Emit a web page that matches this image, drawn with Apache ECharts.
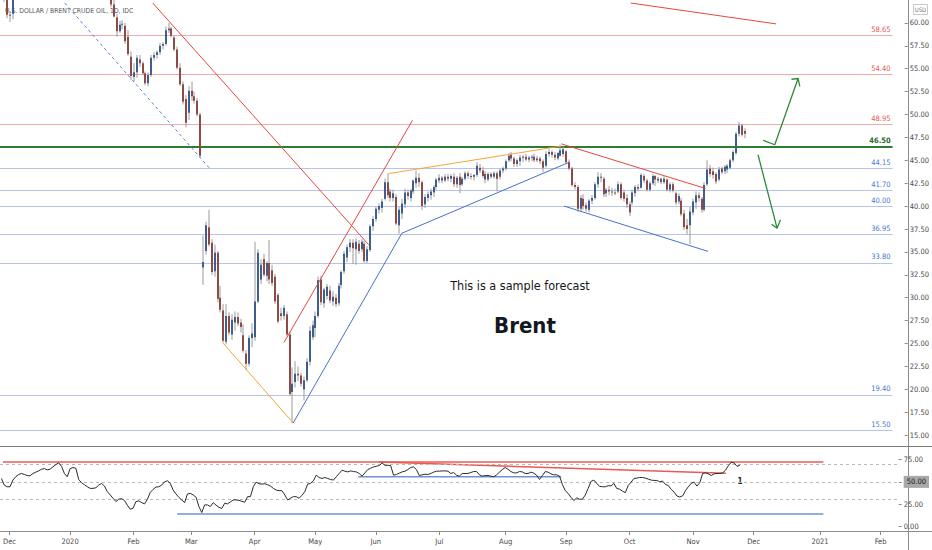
<!DOCTYPE html>
<html>
<head>
<meta charset="utf-8">
<script src="https://cdn.jsdelivr.net/npm/echarts@6/dist/echarts.min.js"></script>
<style>
html,body{margin:0;padding:0;background:#ffffff;}
#chart{width:932px;height:550px;}
</style>
</head>
<body>
<div id="chart"></div>
<script>
// ---------------- DATA ----------------
const startDate = '2019-11-28';
const barCount = 314;
const holidays = ['2019-12-25', '2020-01-01', '2020-04-10'];
const monthNames = ['Jan','Feb','Mar','Apr','May','Jun','Jul','Aug','Sep','Oct','Nov','Dec'];

const opens = [
63.9,63.6,62.5,60.9,61.0,62.9,63.4,64.4,64.3,64.4,
63.7,64.2,65.2,65.3,66.1,66.2,66.5,66.1,66.4,67.2,
67.9,68.2,68.4,66.0,66.3,68.6,68.9,68.3,65.4,65.3,
65.0,64.2,64.5,64.0,64.6,64.9,65.2,64.6,63.2,62.0,
60.6,59.1,59.8,59.7,58.5,56.3,54.1,54.6,56.0,55.6,
54.5,53.4,54.3,56.2,56.5,56.8,57.5,57.7,59.2,59.4,
58.4,57.1,55.1,53.3,51.7,50.2,52.6,52.0,51.5,50.0,
33.3,35.1,37.7,36.0,32.9,34.9,30.0,28.6,25.2,28.0,
26.0,27.3,27.9,27.3,25.9,23.9,22.8,25.6,25.7,29.6,
32.0,34.2,32.4,33.8,33.0,32.3,30.3,28.3,28.0,28.2,
26.0,19.7,20.8,21.7,21.5,20.0,21.0,23.0,25.7,26.7,
28.0,32.0,29.4,30.2,30.8,29.6,30.0,29.4,31.4,32.9,
34.4,35.5,36.0,35.3,35.9,35.3,35.9,34.0,35.2,37.8,
38.6,39.6,39.8,40.8,42.6,41.6,40.9,41.0,37.9,39.2,
40.2,41.5,40.9,41.6,42.5,43.1,42.6,40.2,40.9,41.2,
41.5,42.1,42.8,43.1,42.8,43.2,43.0,43.2,42.4,43.2,
42.4,43.0,43.6,43.3,43.2,43.4,44.2,43.9,43.5,42.9,
43.5,43.2,43.6,43.2,43.9,44.1,45.0,45.6,45.2,44.6,
44.9,45.3,45.4,45.1,45.3,45.4,45.0,45.2,44.9,44.4,
45.7,45.9,45.6,45.2,45.5,45.7,46.0,44.8,44.1,42.3,
42.1,39.7,40.8,40.1,39.6,40.6,40.9,42.4,43.2,43.0,
41.4,41.8,41.6,41.5,41.6,42.4,41.5,40.9,40.2,40.4,
41.4,42.1,42.0,43.3,42.8,41.8,42.5,43.3,42.8,43.0,
42.6,42.9,41.8,42.4,41.4,40.5,40.6,39.2,37.9,37.9,
39.3,40.4,41.2,40.8,39.6,42.4,44.1,43.8,43.5,42.9,
44.1,43.8,44.0,44.2,45.0,45.8,47.9,48.8,48.2
];
const highs = [
64.3,63.8,62.6,61.3,63.0,63.9,64.6,64.7,64.8,64.5,
64.5,65.5,65.7,66.2,66.5,66.6,66.6,66.5,67.3,68.0,
68.4,69.0,68.6,66.8,69.5,70.7,69.2,71.8,66.0,65.9,
65.1,64.8,64.6,64.8,65.2,65.6,65.7,64.9,63.5,62.7,
61.0,60.2,60.3,60.0,59.2,56.9,55.6,56.5,56.5,55.8,
54.7,54.6,56.5,56.8,57.0,57.8,57.9,59.6,60.0,59.6,
58.6,57.4,55.6,53.6,52.1,53.1,53.6,52.5,51.8,50.2,
36.8,38.3,39.6,36.4,35.8,35.1,31.3,29.3,29.3,28.4,
28.2,28.5,28.4,27.7,27.1,24.3,25.9,27.2,36.1,35.3,
34.2,34.8,34.0,36.3,33.6,32.6,30.5,28.9,29.2,28.5,
26.3,22.4,23.1,22.5,21.8,21.4,23.4,26.9,27.5,28.5,
32.3,32.4,31.1,31.5,31.3,30.7,30.4,31.6,33.0,35.1,
35.8,36.4,36.4,36.5,36.3,36.4,36.2,35.6,38.0,38.9,
39.9,40.3,40.8,43.0,43.55,41.9,41.8,41.3,39.9,40.8,
41.9,41.8,41.9,42.9,43.9,43.6,42.8,41.3,41.6,41.9,
42.3,43.1,43.5,43.3,43.5,43.5,43.5,43.6,43.3,43.6,
43.2,43.8,43.8,43.6,43.5,44.8,44.6,44.3,43.8,43.7,
43.7,43.8,43.8,44.1,44.3,45.1,45.8,45.9,45.4,45.2,
45.6,45.6,45.7,45.5,45.6,45.7,45.5,45.4,45.1,46.0,
46.2,46.1,45.9,45.9,46.7,46.5,46.1,45.1,44.3,42.6,
42.3,41.2,41.3,40.4,40.8,41.2,42.6,43.7,43.6,43.2,
42.0,42.2,42.0,41.9,42.7,42.6,41.8,41.3,40.5,41.8,
42.3,42.4,43.6,43.5,43.0,42.7,43.5,43.4,43.2,43.1,
43.3,43.0,42.6,42.6,41.6,41.4,40.9,39.6,38.6,39.9,
40.8,41.6,41.5,41.0,42.6,45.0,44.5,44.2,43.7,44.3,
44.3,44.5,44.6,45.2,46.1,48.1,49.2,49.0,48.5
];
const lows = [
63.2,62.3,60.5,60.1,60.4,62.6,63.0,63.9,63.9,63.5,
63.5,63.8,64.9,65.2,65.8,65.8,65.8,65.9,66.3,67.0,
67.6,68.1,65.9,65.6,66.1,68.3,68.0,65.2,64.9,64.6,
63.9,63.8,63.8,63.9,64.5,64.8,64.3,63.1,61.7,60.6,
58.5,58.9,59.3,57.7,56.4,53.8,53.6,54.0,55.2,54.3,
53.2,53.1,54.1,55.9,56.1,56.5,57.1,57.5,58.9,58.4,
56.9,54.9,53.1,51.1,48.6,49.4,51.5,51.2,49.8,45.3,
31.4,34.7,35.6,32.5,32.3,29.5,28.4,25.1,24.9,25.9,
25.4,26.4,26.9,26.2,24.0,22.1,22.5,24.6,25.3,29.4,
31.5,32.3,31.8,31.5,31.3,29.3,27.2,27.5,27.6,25.8,
19.3,16.3,20.2,20.9,20.3,18.8,20.8,22.6,25.4,25.7,
27.8,29.2,28.9,29.8,29.4,29.1,29.0,29.1,31.0,32.6,
33.9,35.0,33.7,33.6,34.8,35.0,33.8,33.8,35.0,37.3,
38.3,39.2,39.3,40.6,40.9,40.5,40.5,37.9,37.0,38.6,
39.8,40.7,40.5,41.3,42.0,42.1,39.6,39.8,40.5,40.7,
41.0,41.8,42.5,42.5,42.6,42.7,42.6,42.1,42.0,41.4,
42.2,42.8,43.0,42.9,42.8,43.2,43.6,43.1,42.5,42.7,
43.0,43.0,41.6,42.9,43.6,43.9,44.8,44.9,44.3,44.3,
44.4,44.8,44.9,44.8,44.9,44.8,44.8,44.6,43.7,44.2,
45.4,45.3,45.0,45.0,45.4,45.4,44.6,43.9,42.1,41.8,
39.4,39.4,39.6,39.4,39.3,40.2,40.7,42.0,42.6,41.0,
41.0,41.2,41.1,41.2,41.4,40.7,40.5,39.8,38.9,40.1,
41.0,41.6,41.9,42.5,41.6,41.6,42.3,42.2,42.5,42.4,
42.4,41.6,41.5,41.5,40.1,40.2,38.9,37.4,36.9,35.85,
39.0,39.7,40.5,39.3,39.4,42.2,43.2,43.0,42.4,42.7,
43.5,43.5,43.6,44.0,44.8,45.6,47.6,47.6,47.4
];
const closes = [
63.6,62.5,60.9,60.8,62.9,63.4,64.4,64.3,64.4,63.7,
64.2,65.2,65.3,66.1,66.2,66.5,66.1,66.4,67.2,67.9,
68.2,68.4,66.0,66.3,68.6,68.9,68.3,65.4,65.3,65.0,
64.2,64.5,64.0,64.6,64.9,65.2,64.6,63.2,62.0,60.7,
59.1,59.8,59.9,58.0,56.6,54.2,54.6,56.2,55.6,54.5,
53.4,54.3,56.2,56.5,56.8,57.5,57.7,59.2,59.4,58.6,
57.1,55.1,53.3,51.4,49.1,52.6,52.0,51.5,50.0,45.5,
33.9,37.9,35.8,32.8,34.9,29.9,28.7,25.3,28.0,26.2,
27.6,27.9,27.2,26.8,24.2,22.8,25.6,26.1,29.6,34.9,
33.6,32.5,33.8,32.0,31.6,29.6,27.4,28.0,28.9,26.0,
19.5,20.6,21.7,21.5,20.6,21.0,23.0,26.4,27.0,28.0,
31.9,29.5,30.9,31.2,29.7,30.1,29.3,31.3,32.8,34.8,
35.5,36.0,35.4,36.1,35.1,36.1,34.0,35.3,37.8,38.6,
39.7,40.0,40.5,42.6,41.2,40.9,41.4,38.1,39.6,40.3,
41.5,41.1,41.7,42.8,43.1,42.6,40.0,41.0,41.3,41.6,
42.1,42.9,43.1,42.8,43.2,43.0,43.3,42.4,43.1,42.3,
43.0,43.6,43.3,43.2,43.4,44.4,43.9,43.3,42.9,43.5,
43.2,43.6,43.0,43.9,44.1,44.9,45.5,45.2,44.6,45.0,
45.3,45.4,45.1,45.3,45.4,45.0,45.2,44.9,44.2,45.7,
45.9,45.6,45.3,45.8,46.1,46.2,44.8,44.1,42.3,42.1,
39.7,40.9,40.0,39.7,40.6,40.9,42.4,43.2,43.1,41.3,
41.8,41.6,41.5,41.4,42.4,40.9,40.8,40.2,39.3,41.5,
42.1,41.9,43.4,42.8,41.8,42.5,43.3,42.9,43.0,42.6,
43.0,41.8,42.4,41.7,40.4,41.1,39.1,37.7,37.5,39.4,
40.5,41.2,40.9,39.6,42.3,44.0,43.5,43.4,42.7,44.0,
43.7,44.3,44.4,45.0,45.9,47.9,48.8,47.8,47.9
];
const rsiValues = [
53.8,46.4,44.5,44.5,52.0,55.7,58.3,59.4,58.3,57.1,
56.8,59.4,60.9,62.3,64.2,64.9,63.5,64.2,66.8,69.4,
71.3,67.5,59.4,55.7,64.9,66.1,65.3,52.7,49.0,46.8,
44.5,42.7,42.7,43.4,46.4,48.3,45.3,39.0,35.3,31.6,
27.9,30.5,31.2,29.0,23.8,19.3,20.4,27.9,28.6,26.7,
25.3,30.5,38.2,41.6,44.2,44.5,46.4,50.1,51.2,48.3,
40.8,36.4,32.7,29.7,26.7,36.4,37.1,35.3,32.7,22.3,
15.6,24.1,24.1,22.3,26.7,23.8,21.5,20.1,26.0,25.3,
27.5,29.7,29.7,29.3,28.2,27.1,33.4,33.4,44.5,49.7,
47.9,47.5,47.9,46.8,45.3,42.7,40.8,40.1,40.1,35.3,
29.7,31.6,33.4,33.4,31.6,34.9,39.0,47.5,48.3,51.2,
57.5,54.9,53.8,54.9,53.8,52.7,52.0,55.7,59.4,63.1,
62.0,61.2,62.3,61.6,61.2,59.4,56.4,60.1,63.8,65.3,
66.8,67.5,68.3,71.3,68.6,68.6,68.3,57.5,58.3,59.8,
61.2,62.0,63.8,66.1,66.8,63.8,57.1,57.9,58.6,58.3,
59.4,60.9,62.0,62.0,62.3,62.3,62.0,59.4,60.5,57.5,
56.4,59.4,59.4,59.4,60.5,61.6,61.6,57.9,56.4,57.1,
57.1,56.4,55.7,57.9,60.9,63.8,66.1,64.2,61.6,60.1,
60.1,61.6,61.2,59.4,59.4,60.9,59.8,57.5,52.7,57.1,
61.6,60.9,59.0,57.9,57.9,56.4,47.1,40.1,37.1,32.7,
29.0,32.0,30.5,30.5,35.3,42.7,50.5,52.0,48.3,44.9,
44.5,44.5,45.7,45.5,48.3,42.5,41.8,39.5,37.9,46.0,
49.7,53.8,54.2,54.9,54.9,54.2,53.1,52.0,51.6,51.6,
50.1,50.9,47.1,46.0,41.6,38.6,34.2,33.0,34.2,40.1,
44.5,48.3,49.7,45.3,49.0,59.4,60.1,59.0,57.1,59.0,
59.4,59.4,60.1,63.1,68.3,72.0,71.3,67.5,68.6
];

// horizontal levels and their kinds (r = resistance, g = pivot, b = support)
const levelValues = [58.65, 54.40, 48.95, 46.50, 44.15, 41.70, 40.00, 36.95, 33.80, 19.40, 15.50];
const levelKinds  = ['r', 'r', 'r', 'g', 'b', 'b', 'b', 'b', 'b', 'b', 'b'];
const levelStart = -0.5, levelEnd = 309.3;

// drawn trend lines: [barIndex, price]
const dashedDownLine  = [[21.98, 62.17], [72.36, 44.09]];
const redDownLine     = [[52.51, 62.17], [127.45, 35.79]];
const redUpLine       = [[98.06, 25.12], [142.67, 49.37]];
const orangeLowLine   = [[76.72, 25.12], [101.27, 16.33]];
const blueUpLine1     = [[101.27, 16.33], [138.97, 37.04]];
const blueUpLine2     = [[138.97, 37.04], [197.31, 44.82]];
const orangeTopLine   = [[134.37, 43.55], [194.30, 46.55]];
const redSepNovLine   = [[194.30, 46.80], [244.44, 41.92]];
const blueSepNovLine  = [[195.24, 40.01], [245.27, 35.06]];
const redTopRightLine = [[218.40, 62.17], [268.90, 59.89]];
const arrowUpPath     = [[264.4, 47.17], [268.4, 46.70], [276.5, 53.93]];
const arrowUpHead     = [[274.2, 53.85], [276.5, 53.93], [277.1, 53.06]];
const arrowDownPath   = [[262.6, 45.61], [269.2, 37.59]];
const arrowDownHead   = [[267.3, 38.02], [269.2, 37.59], [270.4, 38.50]];

// RSI pane drawings: [barIndex, rsi]
const rsiRedFlat    = [[0.54, 72.3], [287.2, 72.3]];
const rsiRedSlope   = [[131.95, 72.3], [253.1, 59.6]];
const rsiBlueUpper  = [[124.7, 55.8], [195.6, 55.8]];
const rsiBlueLower  = [[61.4, 13.9], [287.2, 13.9]];
const rsiBands = [70, 50, 30];

const priceTicks = [15,17.5,20,22.5,25,27.5,30,32.5,35,37.5,40,42.5,45,47.5,50,52.5,55,57.5,60];
const rsiTicks = [0, 25, 50, 75];

// ---------------- BUILD ----------------
function buildCategories() {
  const out = [];
  const d = new Date(startDate + 'T00:00:00Z');
  while (out.length < barCount) {
    const dow = d.getUTCDay();
    const iso = d.toISOString().slice(0, 10);
    if (dow !== 0 && dow !== 6 && holidays.indexOf(iso) < 0) out.push(iso);
    d.setUTCDate(d.getUTCDate() + 1);
  }
  return out;
}
const cats = buildCategories();
const candleData = opens.map((o, i) => [i, o, closes[i], lows[i], highs[i]]);
const rsiData = rsiValues.map((v, i) => [i, v]);

const NARROW = "'Liberation Sans Narrow','Arial Narrow','DejaVu Sans Condensed','Liberation Sans',sans-serif";
const UP = '#3f5e8e', DOWN = '#8d4a46', WICK = '#9a9a9a';
const LEVEL_STYLE = {
  r: { line: '#f3a9a9', text: '#e05a5a', width: 1, weight: 'normal' },
  g: { line: '#2e7d32', text: '#1f6b24', width: 2, weight: 'bold' },
  b: { line: '#b7c3ec', text: '#4a78d2', width: 1, weight: 'normal' }
};

function renderCandle(params, api) {
  const i = api.value(0), o = api.value(1), c = api.value(2), l = api.value(3), h = api.value(4);
  const pO = api.coord([i, o]), pC = api.coord([i, c]);
  const pH = api.coord([i, h]), pL = api.coord([i, l]);
  const x = Math.round(pO[0]);
  const top = Math.min(pO[1], pC[1]);
  const bh = Math.max(Math.abs(pO[1] - pC[1]), 1);
  return {
    type: 'group',
    children: [
      { type: 'line', shape: { x1: x, y1: pH[1], x2: x, y2: pL[1] }, style: { stroke: WICK, lineWidth: 1 } },
      { type: 'rect', shape: { x: x - 1, y: top, width: 2, height: bh }, style: { fill: c >= o ? UP : DOWN } }
    ]
  };
}

function seg(name, data, color, width, extra) {
  return Object.assign({
    type: 'line', name: name, data: data, xAxisIndex: 0, yAxisIndex: 0,
    symbol: 'none', silent: true, animation: false, z: 4,
    lineStyle: { color: color, width: width }
  }, extra || {});
}
function rsiSeg(name, data, color, width) {
  return seg(name, data, color, width, { xAxisIndex: 1, yAxisIndex: 1 });
}

const levelMarks = levelValues.map((v, k) => {
  const st = LEVEL_STYLE[levelKinds[k]];
  const item = {
    coord: [levelStart, v],
    lineStyle: { color: st.line, width: st.width, type: 'solid' },
    label: {
      show: true, position: 'insideEndTop', formatter: v.toFixed(2), distance: 2,
      color: st.text, fontSize: 7.5, fontWeight: st.weight, fontFamily: NARROW
    }
  };
  return [item, Object.assign({}, item, { coord: [levelEnd, v] })];
});

const monthStart = (idx, val) => idx > 0 && val.slice(0, 7) !== cats[idx - 1].slice(0, 7);
const monthLabel = (val) => {
  const m = +val.slice(5, 7);
  return m === 1 ? val.slice(0, 4) : monthNames[m - 1];
};

const axisLabelBase = { fontSize: 7.5, color: '#4a4a4a', fontFamily: NARROW, margin: 5 };
const noLine = { show: false, onZero: false };

const option = {
  backgroundColor: '#ffffff',
  animation: false,
  grid: [
    { left: 0, right: 24, top: -3.056, height: 461.11 },
    { left: 0, right: 24, top: 437.33, height: 111.34 },
    { left: 0, right: 24, top: 531, height: 1 }
  ],
  xAxis: [
    { type: 'value', gridIndex: 0, min: -0.5, max: barCount - 0.5, show: false, axisLine: noLine, axisTick: { show: false }, axisLabel: { show: false }, splitLine: { show: false } },
    { type: 'value', gridIndex: 1, min: -0.5, max: barCount - 0.5, show: false, axisLine: noLine, axisTick: { show: false }, axisLabel: { show: false }, splitLine: { show: false } },
    {
      type: 'category', gridIndex: 2, data: cats, boundaryGap: true,
      axisLine: noLine,
      axisTick: { show: true, alignWithLabel: true, interval: monthStart, length: 3, lineStyle: { color: '#8a8a8a' } },
      axisLabel: Object.assign({}, axisLabelBase, { interval: monthStart, formatter: monthLabel, margin: 5 }),
      splitLine: { show: false }
    }
  ],
  yAxis: [
    {
      type: 'value', gridIndex: 0, position: 'right', min: 12.5, max: 62.5, interval: 2.5,
      axisLine: noLine,
      axisTick: { show: true, length: 3, lineStyle: { color: '#8a8a8a' }, customValues: priceTicks },
      axisLabel: Object.assign({}, axisLabelBase, {
        customValues: priceTicks,
        formatter: (v) => (v < 14 || v > 61) ? '' : Number(v).toFixed(2)
      }),
      splitLine: { show: false }
    },
    {
      type: 'value', gridIndex: 1, position: 'right', min: -25, max: 100, interval: 25,
      axisLine: noLine,
      axisTick: { show: true, length: 3, lineStyle: { color: '#8a8a8a' }, customValues: rsiTicks },
      axisLabel: Object.assign({}, axisLabelBase, {
        customValues: rsiTicks,
        formatter: (v) => v === 50 ? '{hl|50.00}' : ((v < 0 || v > 90) ? '' : Number(v).toFixed(2)),
        rich: { hl: { backgroundColor: '#a9a9a9', color: '#151515', padding: [2, 3], fontSize: 7.5, fontFamily: NARROW } }
      }),
      splitLine: { show: false }
    },
    { type: 'value', gridIndex: 2, show: false, axisLine: noLine, splitLine: { show: false } }
  ],
  series: [
    {
      type: 'custom', name: 'Brent', xAxisIndex: 0, yAxisIndex: 0,
      data: candleData, renderItem: renderCandle, encode: { x: 0, y: [1, 2, 3, 4] },
      z: 3, silent: true,
      markLine: { silent: true, symbol: ['none', 'none'], animation: false, z: 2, data: levelMarks }
    },
    seg('dashedDown', dashedDownLine, '#5a7fd6', 1, { lineStyle: { color: '#5a7fd6', width: 1, type: [3, 3] } }),
    seg('redDown', redDownLine, '#e8463f', 1),
    seg('redUp', redUpLine, '#e8463f', 1),
    seg('orangeLow', orangeLowLine, '#f5a43a', 1),
    seg('blueUp1', blueUpLine1, '#4670cf', 1),
    seg('blueUp2', blueUpLine2, '#4670cf', 1),
    seg('orangeTop', orangeTopLine, '#f5a43a', 1),
    seg('redSepNov', redSepNovLine, '#e8463f', 1),
    seg('blueSepNov', blueSepNovLine, '#4670cf', 1),
    seg('redTopRight', redTopRightLine, '#e8463f', 1),
    seg('arrowUp', arrowUpPath, '#2e8a3a', 1.3),
    seg('arrowUpHead', arrowUpHead, '#2e8a3a', 1.3),
    seg('arrowDown', arrowDownPath, '#2e8a3a', 1.3),
    seg('arrowDownHead', arrowDownHead, '#2e8a3a', 1.3),
    {
      type: 'line', name: 'RSI', xAxisIndex: 1, yAxisIndex: 1, data: rsiData,
      symbol: 'none', silent: true, animation: false, z: 5,
      lineStyle: { color: '#2b2b2b', width: 1 },
      markLine: {
        silent: true, symbol: ['none', 'none'], animation: false,
        lineStyle: { color: '#b9b9b9', width: 1, type: [3, 3] },
        label: { show: false },
        data: rsiBands.map(v => ({ yAxis: v }))
      }
    },
    rsiSeg('rsiRedFlat', rsiRedFlat, '#e85a55', 1.5),
    rsiSeg('rsiRedSlope', rsiRedSlope, '#e85a55', 1.5),
    rsiSeg('rsiBlueUpper', rsiBlueUpper, '#6f93d3', 1.5),
    rsiSeg('rsiBlueLower', rsiBlueLower, '#6f93d3', 1.5)
  ],
  graphic: [
    { type: 'line', shape: { x1: 908.5, y1: 0, x2: 908.5, y2: 550 }, style: { stroke: '#8c8c8c', lineWidth: 1 }, silent: true },
    { type: 'line', shape: { x1: 0, y1: 446.5, x2: 932, y2: 446.5 }, style: { stroke: '#7a7a7a', lineWidth: 1.2 }, silent: true },
    { type: 'line', shape: { x1: 0, y1: 531.5, x2: 932, y2: 531.5 }, style: { stroke: '#8c8c8c', lineWidth: 1 }, silent: true },
    { type: 'rect', shape: { x: 913.5, y: 4.5, width: 14, height: 10 }, style: { fill: '#ffffff', stroke: '#c8c8c8', lineWidth: 1 }, silent: true },
    { type: 'text', style: { text: 'USD', x: 920.5, y: 9.8, align: 'center', verticalAlign: 'middle', fontSize: 6, fontFamily: NARROW, fill: '#777777' }, silent: true },
    { type: 'text', style: { text: 'U.S. DOLLAR / BRENT CRUDE OIL, 1D, IDC', x: 5, y: 11, align: 'left', verticalAlign: 'middle', fontSize: 6.8, fontFamily: NARROW, fill: '#555a63' }, silent: true },
    { type: 'text', style: { text: 'This is a sample forecast', x: 520, y: 285, align: 'center', verticalAlign: 'middle', fontSize: 12.5, fontFamily: NARROW, fill: '#131722' }, silent: true },
    { type: 'text', style: { text: 'Brent', x: 525, y: 325, align: 'center', verticalAlign: 'middle', fontSize: 22, fontWeight: 'bold', fontFamily: NARROW, fill: '#131722' }, silent: true },
    { type: 'text', style: { text: '1', x: 740, y: 481, align: 'center', verticalAlign: 'middle', fontSize: 8, fontWeight: 'bold', fontFamily: NARROW, fill: '#222222' }, silent: true }
  ]
};

const chart = echarts.init(document.getElementById('chart'), null, { renderer: 'svg' });
chart.setOption(option);
</script>
</body>
</html>
